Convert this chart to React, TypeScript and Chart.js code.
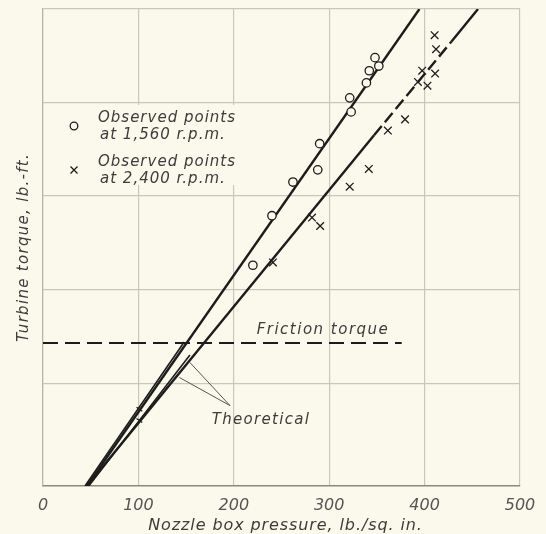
import React, { useEffect, useRef } from 'react';
import { Chart, registerables } from 'chart.js';

Chart.register(...registerables);

// ---- data (x: nozzle box pressure lb/sq in, y: torque in grid units) ----
const xTickValues = [0, 100, 200, 300, 400, 500];
const yGridValues = [1, 2, 3, 4, 5];

const obs1560X = [220, 240, 262, 288, 290, 321.5, 323, 339, 342, 348, 352];
const obs1560Y = [2.26, 2.79, 3.15, 3.28, 3.56, 4.05, 3.9, 4.21, 4.34, 4.48, 4.39];

const obs2400X = [241, 282, 290.5, 321.5, 341.5, 361.5, 379.5, 393, 403, 397.5, 411, 410.5, 412];
const obs2400Y = [2.29, 2.77, 2.68, 3.1, 3.29, 3.7, 3.82, 4.22, 4.18, 4.34, 4.31, 4.72, 4.57];

const fit1560X = [46, 394.6];
const fit1560Y = [-0.1, 5];

const fit2400LowX = [46, 347];
const fit2400LowY = [-0.1, 3.65];
const fit2400MidX = [347, 428];
const fit2400MidY = [3.65, 4.65];
const fit2400TopX = [428, 456];
const fit2400TopY = [4.65, 5];

const theo1X = [44, 148];
const theo1Y = [-0.1, 1.44];
const theo2X = [48, 154];
const theo2Y = [-0.1, 1.3];

const calcX = [101, 101];
const calcY = [0.72, 0.6];

const frictionX = [0, 376];
const frictionY = [1.43, 1.43];

const leaderAX = [196, 154];
const leaderAY = [0.76, 1.22];
const leaderBX = [196, 143];
const leaderBY = [0.76, 1.06];

const zip = (xs: number[], ys: number[]) => xs.map((x, i) => ({ x, y: ys[i] }));

const BG = '#fbf9ec';
const INK = '#1c1c1c';
const TEXT = '#3c3c3c';

function drawText(
  ctx: CanvasRenderingContext2D,
  s: string,
  x: number,
  y: number,
  size: number,
  ls: number,
  align: CanvasTextAlign = 'left',
  rot = 0
) {
  ctx.save();
  ctx.font = `italic ${size}px "DejaVu Sans"`;
  ctx.fillStyle = TEXT;
  (ctx as any).letterSpacing = ls + 'px';
  ctx.textBaseline = 'middle';
  ctx.textAlign = align;
  ctx.translate(x, y);
  ctx.rotate(rot);
  ctx.fillText(s, 0, 0);
  ctx.restore();
}

const bgPlugin = {
  id: 'bgFill',
  beforeDraw(chart: any) {
    const { ctx, width, height } = chart;
    ctx.save();
    ctx.fillStyle = BG;
    ctx.fillRect(0, 0, width, height);
    ctx.restore();
  },
};

const annotPlugin = {
  id: 'annot',
  beforeDatasetsDraw(chart: any) {
    const { ctx, chartArea } = chart;
    const xs = chart.scales.x;
    const ys = chart.scales.y;
    const L = chartArea.left;
    const T = chartArea.top;

    // legend box covering the grid
    ctx.save();
    ctx.fillStyle = BG;
    ctx.fillRect(L + 7, T + 96, 192, 80);
    ctx.restore();

    // legend markers
    ctx.save();
    ctx.strokeStyle = INK;
    ctx.lineWidth = 1.3;
    ctx.beginPath();
    ctx.arc(L + 31, T + 117, 3.8, 0, Math.PI * 2);
    ctx.stroke();
    const cx = L + 31, cy = T + 161, r = 3.5;
    ctx.beginPath();
    ctx.moveTo(cx - r, cy - r);
    ctx.lineTo(cx + r, cy + r);
    ctx.moveTo(cx + r, cy - r);
    ctx.lineTo(cx - r, cy + r);
    ctx.stroke();
    ctx.restore();

    drawText(ctx, 'Observed points', L + 55, T + 109, 15, 1);
    drawText(ctx, 'at 1,560 r.p.m.', L + 57, T + 126, 15, 1);
    drawText(ctx, 'Observed points', L + 55, T + 153, 15, 1);
    drawText(ctx, 'at 2,400 r.p.m.', L + 57, T + 170, 15, 1);

    // annotations anchored in data space
    drawText(ctx, 'Friction torque', xs.getPixelForValue(293.5), ys.getPixelForValue(1.57), 15, 1.5, 'center');
    drawText(ctx, 'Theoretical', xs.getPixelForValue(228.5), ys.getPixelForValue(0.6), 15, 1.3, 'center');

    // axis titles
    const xMid = (chartArea.left + chartArea.right) / 2;
    drawText(ctx, 'Nozzle box pressure, lb./sq. in.', xMid + 4, chart.height - 8, 16, 0.9, 'center');
    const yMid = (chartArea.top + chartArea.bottom) / 2;
    drawText(ctx, 'Turbine torque, lb.-ft.', 24, yMid, 15, 1.3, 'center', -Math.PI / 2);
  },
};

const lineDs = (data: any[], width: number, dash: number[] = [], color = INK) => ({
  data,
  showLine: true,
  borderColor: color,
  borderWidth: width,
  borderDash: dash,
  pointRadius: 0,
  fill: false,
  tension: 0,
  borderCapStyle: 'butt',
});

export default function App() {
  const ref = useRef<HTMLCanvasElement>(null);

  useEffect(() => {
    if (!ref.current) return;
    const chart = new Chart(ref.current, {
      type: 'scatter',
      data: {
        datasets: [
          {
            label: 'Observed points at 1,560 r.p.m.',
            data: zip(obs1560X, obs1560Y),
            pointStyle: 'circle',
            pointRadius: 4.2,
            borderWidth: 1.3,
            borderColor: INK,
            backgroundColor: BG,
          },
          {
            label: 'Observed points at 2,400 r.p.m.',
            data: zip(obs2400X, obs2400Y),
            pointStyle: 'crossRot',
            pointRadius: 5.4,
            borderWidth: 1.3,
            borderColor: INK,
            backgroundColor: INK,
          },
          {
            label: 'calc',
            data: zip(calcX, calcY),
            pointStyle: 'line',
            pointRadius: 3.5,
            rotation: 35,
            borderWidth: 1.3,
            borderColor: INK,
          },
          lineDs(zip(fit1560X, fit1560Y), 2.4),
          lineDs(zip(fit2400LowX, fit2400LowY), 2.4),
          lineDs(zip(fit2400MidX, fit2400MidY), 2.4, [12, 5]),
          lineDs(zip(fit2400TopX, fit2400TopY), 2.4),
          lineDs(zip(theo1X, theo1Y), 1.6),
          lineDs(zip(theo2X, theo2Y), 1.6),
          lineDs(zip(frictionX, frictionY), 2, [15, 7]),
          lineDs(zip(leaderAX, leaderAY), 1, [], '#555'),
          lineDs(zip(leaderBX, leaderBY), 1, [], '#555'),
        ] as any,
      },
      options: {
        responsive: false,
        animation: false,
        events: [],
        layout: { padding: { top: 9, right: 26, left: 0, bottom: 0 } },
        plugins: { legend: { display: false }, tooltip: { enabled: false } },
        scales: {
          x: {
            type: 'linear',
            min: 0,
            max: 500,
            afterBuildTicks: (s: any) => {
              s.ticks = xTickValues.map((v) => ({ value: v }));
            },
            afterFit: (s: any) => {
              s.height = 48;
            },
            grid: { color: '#c9c7bb', lineWidth: 1.2, drawTicks: false },
            border: { display: true, color: '#8a8a82', width: 1.5 },
            ticks: {
              padding: 10,
              color: '#555',
              font: { family: 'DejaVu Sans', style: 'italic', size: 16 },
              maxRotation: 0,
              autoSkip: false,
            },
          },
          y: {
            type: 'linear',
            min: -0.1,
            max: 5,
            afterBuildTicks: (s: any) => {
              s.ticks = yGridValues.map((v) => ({ value: v }));
            },
            afterFit: (s: any) => {
              s.width = 43;
            },
            grid: { color: '#c9c7bb', lineWidth: 1.2, drawTicks: false },
            border: { display: true, color: '#b8b6aa', width: 1.2 },
            ticks: { display: false },
          },
        },
      },
      plugins: [bgPlugin, annotPlugin],
    } as any);
    return () => chart.destroy();
  }, []);

  return (
    <div style={{ position: 'absolute', left: 0, top: 0, width: 546, height: 534 }}>
      <canvas ref={ref} width={546} height={534} style={{ display: 'block' }} />
    </div>
  );
}
